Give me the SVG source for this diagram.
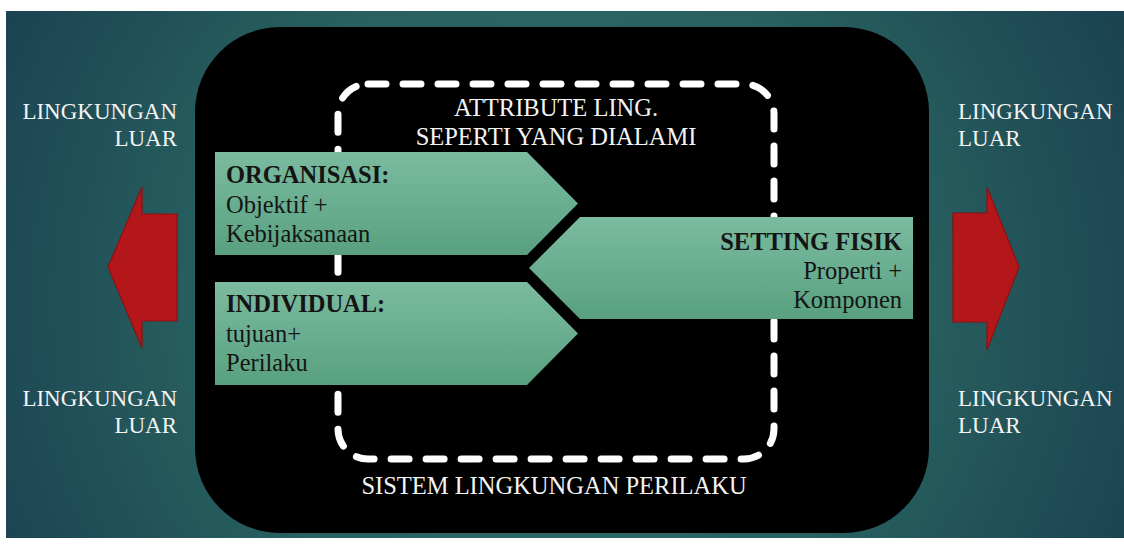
<svg xmlns="http://www.w3.org/2000/svg" width="1124" height="544" viewBox="0 0 1124 544">
  <defs>
    <radialGradient id="bgGrad" cx="560" cy="300" r="620" gradientUnits="userSpaceOnUse">
      <stop offset="0" stop-color="#307070"/>
      <stop offset="0.55" stop-color="#28615f"/>
      <stop offset="1" stop-color="#1b4352"/>
    </radialGradient>
    <linearGradient id="greenGrad" x1="0" y1="0" x2="0" y2="1">
      <stop offset="0" stop-color="#7bbb9f"/>
      <stop offset="0.5" stop-color="#6aae91"/>
      <stop offset="1" stop-color="#58a07f"/>
    </linearGradient>
    <style>
      .light { font-family: "Liberation Serif", "Times New Roman", serif; fill: #f4f4f4; font-size: 23px; }
      .caption { font-family: "Liberation Serif", "Times New Roman", serif; fill: #f4f4f4; font-size: 24.5px; text-anchor: middle; }
      .dark { font-family: "Liberation Serif", "Times New Roman", serif; fill: #141414; font-size: 24.5px; }
      .bold { font-weight: bold; }
      .chev { fill: url(#greenGrad); }
      .red { fill: #b4171a; stroke: #8c1113; stroke-width: 1.2; stroke-linejoin: miter; }
      .dash { fill: none; stroke: #ffffff; stroke-width: 7; stroke-linecap: round; stroke-dasharray: 18 17; }
    </style>
  </defs>

  <!-- page background -->
  <rect x="0" y="0" width="1124" height="544" fill="#ffffff"/>
  <rect x="6" y="11" width="1118" height="527" fill="url(#bgGrad)"/>

  <!-- system boundary -->
  <g id="system">
    <rect x="195" y="27" width="734" height="506" rx="85" ry="85" fill="#000000"/>
    <text class="caption" x="554" y="494">SISTEM LINGKUNGAN PERILAKU</text>
  </g>

  <!-- perceived attributes boundary -->
  <g id="perceived">
    <rect class="dash" x="338" y="84" width="436" height="375" rx="30" ry="30"/>
    <text class="caption" x="556" y="116">ATTRIBUTE LING.</text>
    <text class="caption" x="556" y="145">SEPERTI YANG DIALAMI</text>
  </g>

  <!-- exchanges with the outside environment -->
  <g id="connectors">
    <polygon class="red" points="108,267 142,187 142,214 177,214 177,321 142,321 142,348"/>
    <polygon class="red" points="1019,267 987,187 987,213 953,213 953,322 987,322 987,350"/>
  </g>

  <g id="organisasi">
    <polygon class="chev" points="215,152 527,152 578,203.5 527,255 215,255"/>
    <text class="dark bold" x="226" y="183">ORGANISASI:</text>
    <text class="dark" x="226" y="213">Objektif +</text>
    <text class="dark" x="226" y="242">Kebijaksanaan</text>
  </g>

  <g id="individual">
    <polygon class="chev" points="215,282 527,282 578,333.5 527,385 215,385"/>
    <text class="dark bold" x="226" y="312">INDIVIDUAL:</text>
    <text class="dark" x="226" y="342">tujuan+</text>
    <text class="dark" x="226" y="371">Perilaku</text>
  </g>

  <g id="setting-fisik">
    <polygon class="chev" points="913,217 580,217 529,268 580,319 913,319"/>
    <text class="dark bold" x="902" y="250" text-anchor="end">SETTING FISIK</text>
    <text class="dark" x="902" y="279" text-anchor="end">Properti +</text>
    <text class="dark" x="902" y="308" text-anchor="end">Komponen</text>
  </g>

  <g id="luar-top-left">
    <text class="light" x="177" y="119" text-anchor="end">LINGKUNGAN</text>
    <text class="light" x="177" y="146" text-anchor="end">LUAR</text>
  </g>
  <g id="luar-bottom-left">
    <text class="light" x="177" y="406" text-anchor="end">LINGKUNGAN</text>
    <text class="light" x="177" y="433" text-anchor="end">LUAR</text>
  </g>
  <g id="luar-top-right">
    <text class="light" x="958" y="119">LINGKUNGAN</text>
    <text class="light" x="958" y="146">LUAR</text>
  </g>
  <g id="luar-bottom-right">
    <text class="light" x="958" y="406">LINGKUNGAN</text>
    <text class="light" x="958" y="433">LUAR</text>
  </g>
</svg>
